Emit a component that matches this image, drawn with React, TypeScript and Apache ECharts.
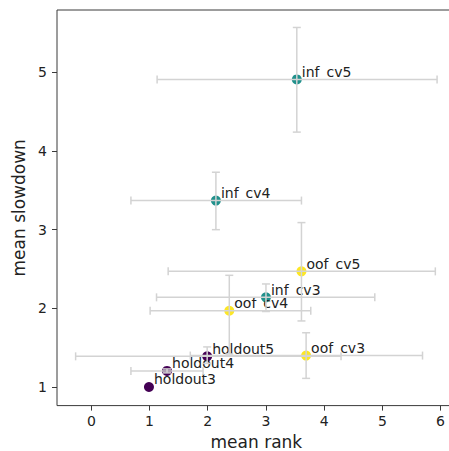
import React, { useEffect, useRef } from "react";
import * as echarts from "echarts";

const labels = ["holdout3", "holdout4", "holdout5", "inf_cv3", "inf_cv4", "inf_cv5", "oof_cv3", "oof_cv4", "oof_cv5"];
const groups = ["holdout", "holdout", "holdout", "inf", "inf", "inf", "oof", "oof", "oof"];
const meanRank = [0.99, 1.3, 1.99, 3.0, 2.14, 3.53, 3.69, 2.37, 3.61];
const meanSlowdown = [1.0, 1.205, 1.39, 2.14, 3.37, 4.91, 1.4, 1.97, 2.47];
const rankLow = [0.99, 0.68, -0.27, 1.12, 0.68, 1.13, 1.7, 1.01, 1.32];
const rankHigh = [0.99, 1.92, 4.29, 4.87, 3.61, 5.94, 5.69, 3.77, 5.91];
const slowLow = [1.0, 1.18, 1.3, 1.96, 3.0, 4.24, 1.11, 1.42, 1.84];
const slowHigh = [1.0, 1.23, 1.51, 2.31, 3.73, 5.57, 1.69, 2.42, 3.09];
const xTicks = [0, 1, 2, 3, 4, 5, 6];
const yTicks = [1, 2, 3, 4, 5];
const groupColors: Record<string, string> = { holdout: "#440154", inf: "#21918c", oof: "#fde725" };

const FONT = "DejaVu Sans";

export default function App() {
  const ref = useRef<HTMLDivElement>(null);
  useEffect(() => {
    if (!ref.current) return;
    const chart = echarts.init(ref.current, undefined, { renderer: "svg" });
    const errData = labels.map((_, i) => [meanRank[i], meanSlowdown[i], rankLow[i], rankHigh[i], slowLow[i], slowHigh[i]]);
    const ptData = labels.map((l, i) => ({
      value: [meanRank[i], meanSlowdown[i]],
      name: l,
      itemStyle: { color: groupColors[groups[i]], opacity: 1 },
    }));
    const cap = 4;
    const errStyle = { stroke: "#d3d3d3", lineWidth: 1.5, fill: null };
    chart.setOption({
      animation: false,
      grid: {
        left: 57, top: 10, width: 398.7, height: 395.6,
        outerBoundsMode: "none", containLabel: false,
        show: true, borderColor: "#3a3a3a", borderWidth: 1, backgroundColor: "transparent",
      },
      xAxis: {
        type: "value",
        min: -0.59,
        max: 6.26,
        name: "mean rank",
        nameLocation: "middle",
        nameGap: 28,
        nameTextStyle: { fontFamily: FONT, fontSize: 17, lineHeight: 17, color: "#222" },
        axisLine: { show: false, onZero: false },
        splitLine: { show: false },
        axisTick: { show: true, length: 5, lineStyle: { color: "#3a3a3a", width: 1 }, customValues: xTicks },
        axisLabel: { customValues: xTicks, fontFamily: FONT, fontSize: 14, color: "#222", margin: 8 },
      },
      yAxis: {
        type: "value",
        min: 0.764,
        max: 5.792,
        name: "mean slowdown",
        nameLocation: "middle",
        nameGap: 29,
        nameTextStyle: { fontFamily: FONT, fontSize: 17, color: "#222" },
        axisLine: { show: false, onZero: false },
        splitLine: { show: false },
        axisTick: { show: true, length: 5, lineStyle: { color: "#3a3a3a", width: 1 }, customValues: yTicks },
        axisLabel: { customValues: yTicks, fontFamily: FONT, fontSize: 14, color: "#222", margin: 10 },
      },
      series: [
        {
          type: "scatter",
          data: ptData,
          symbolSize: 10,
          z: 2,
          itemStyle: { opacity: 1 },
          label: {
            show: true,
            formatter: (p: any) => p.name,
            position: [10, -2.8],
            align: "left",
            verticalAlign: "middle",
            fontFamily: FONT,
            fontSize: 14,
            color: "#222",
          },
          labelLayout: { hideOverlap: false },
        },
        {
          type: "custom",
          z: 3,
          data: errData,
          renderItem: (params: any, api: any) => {
            const c = api.coord([api.value(0), api.value(1)]);
            const xl = api.coord([api.value(2), api.value(1)]);
            const xr = api.coord([api.value(3), api.value(1)]);
            const yl = api.coord([api.value(0), api.value(4)]);
            const yh = api.coord([api.value(0), api.value(5)]);
            const children: any[] = [];
            const ln = (x1: number, y1: number, x2: number, y2: number) => ({
              type: "line",
              shape: { x1, y1, x2, y2 },
              style: errStyle,
            });
            if (Math.abs(xr[0] - xl[0]) > 0.5) {
              children.push(ln(xl[0], c[1], xr[0], c[1]));
              children.push(ln(xl[0], c[1] - cap, xl[0], c[1] + cap));
              children.push(ln(xr[0], c[1] - cap, xr[0], c[1] + cap));
            }
            if (Math.abs(yh[1] - yl[1]) > 0.5) {
              children.push(ln(c[0], yl[1], c[0], yh[1]));
              children.push(ln(c[0] - cap, yl[1], c[0] + cap, yl[1]));
              children.push(ln(c[0] - cap, yh[1], c[0] + cap, yh[1]));
            }
            return { type: "group", children };
          },
        },
      ],
    });
    return () => chart.dispose();
  }, []);
  return (
    <div style={{ position: "absolute", left: 0, top: 0, width: 449, height: 451, overflow: "hidden" }}>
      <div ref={ref} style={{ width: 470, height: 451 }} />
    </div>
  );
}
